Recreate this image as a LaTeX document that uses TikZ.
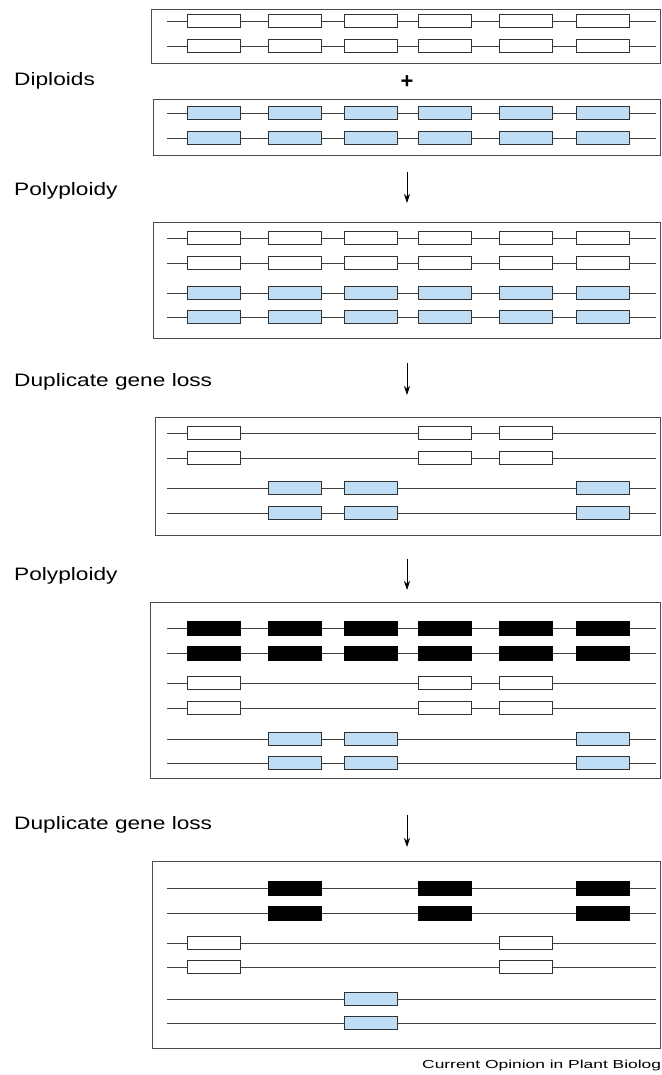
\documentclass[tikz,border=0pt]{standalone}
\usepackage{fontspec}
\setmainfont{Liberation Sans}
\usetikzlibrary{arrows.meta}
\definecolor{geneblue}{RGB}{191,222,246}
\tikzset{%
	panel/.style={draw=black!70, line width=0.8pt},
	chrom/.style={draw=black!75, line width=0.8pt},
	gene/.style={draw=black!80, rectangle, minimum width=53pt, minimum height=13pt,%
		inner sep=0pt, line width=0.8pt},
	ngene/.style={fill=white},
	bgene/.style={fill=geneblue},
	kgene/.style={fill=black, draw=black, minimum height=14pt},
	stage/.style={anchor=base west, inner sep=0pt, font=\fontsize{18}{20}\selectfont},
	dup/.style={-{Stealth[length=9pt, width=6pt]}, line width=0.8pt}
}
\newcommand{\wide}[1]{\scalebox{1.26}[1]{#1}}

\begin{document}
\begin{tikzpicture}[x=1pt, y=-1pt]
	\useasboundingbox (0,0) rectangle (661,1075);

	% panels
	\draw[panel] (151,9) rectangle (660,63);
	\draw[panel] (153,99) rectangle (660,155);
	\draw[panel] (153,222) rectangle (660,338);
	\draw[panel] (155,417) rectangle (660,535);
	\draw[panel] (150,602) rectangle (660,778);
	\draw[panel] (152,861) rectangle (660,1048);

	% chromosomes with their genes
	\foreach \y/\cols/\kind [count=\r] in {
		21/{214,295,371,445,526,603}/ngene, 46/{214,295,371,445,526,603}/ngene,
		113/{214,295,371,445,526,603}/bgene, 138/{214,295,371,445,526,603}/bgene,
		238/{214,295,371,445,526,603}/ngene, 263/{214,295,371,445,526,603}/ngene,
		293/{214,295,371,445,526,603}/bgene, 317/{214,295,371,445,526,603}/bgene,
		433/{214,445,526}/ngene, 458/{214,445,526}/ngene,
		488/{295,371,603}/bgene, 513/{295,371,603}/bgene,
		628/{214,295,371,445,526,603}/kgene, 653/{214,295,371,445,526,603}/kgene,
		683/{214,445,526}/ngene, 708/{214,445,526}/ngene,
		739/{295,371,603}/bgene, 763/{295,371,603}/bgene,
		888/{295,445,603}/kgene, 913/{295,445,603}/kgene,
		943/{214,526}/ngene, 967/{214,526}/ngene,
		999/{371}/bgene, 1023/{371}/bgene}
	{
		\coordinate (row\r-s) at (167,\y);
		\coordinate (row\r-e) at (656,\y);
		\draw[chrom] (row\r-s) -- (row\r-e);
		\foreach \x in \cols
			\node[gene, \kind] (g\r-\x) at (\x,\y) {};
	}

	% stage labels
	\node[stage] (diploids) at (14,86) {\wide{Diploids}};
	\node[stage] (poly-a) at (14,196) {\wide{Polyploidy}};
	\node[stage] (loss-a) at (14,386) {\wide{Duplicate gene loss}};
	\node[stage] (poly-b) at (14,580) {\wide{Polyploidy}};
	\node[stage] (loss-b) at (14,829) {\wide{Duplicate gene loss}};
	\node[font=\fontsize{22}{22}\selectfont\bfseries, inner sep=0pt] (plus) at (407,82) {+};
	\node[anchor=base west, inner sep=0pt, font=\fontsize{11.6}{12}\selectfont]
		(credit) at (422,1068) {\scalebox{1.5}[1]{Current Opinion in Plant Biolog}};

	% arrows
	\coordinate (a1-s) at (407,172);  \coordinate (a1-e) at (407,203);
	\coordinate (a2-s) at (407,363);  \coordinate (a2-e) at (407,395);
	\coordinate (a3-s) at (407,559);  \coordinate (a3-e) at (407,590);
	\coordinate (a4-s) at (407,815);  \coordinate (a4-e) at (407,847);
	\draw[dup] (a1-s) -- (a1-e);
	\draw[dup] (a2-s) -- (a2-e);
	\draw[dup] (a3-s) -- (a3-e);
	\draw[dup] (a4-s) -- (a4-e);
\end{tikzpicture}
\end{document}
